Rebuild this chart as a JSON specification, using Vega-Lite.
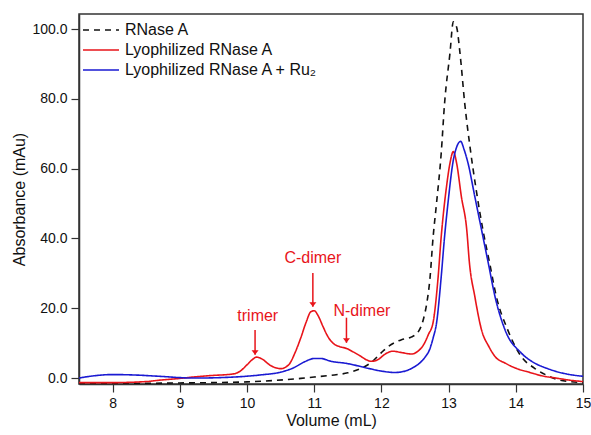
{
  "$schema": "https://vega.github.io/schema/vega-lite/v6.json",
  "autosize": {"type": "none"},
  "padding": {"left": 79, "top": 14, "right": 8, "bottom": 51},
  "width": 504,
  "height": 370,
  "config": {
    "font": "Liberation Sans",
    "view": {"stroke": "#333", "strokeWidth": 1.5},
    "axis": {"domainColor": "#333", "domainWidth": 1.5, "tickColor": "#333", "tickWidth": 1.2, "labelColor": "#111", "titleColor": "#111", "labelFont": "Liberation Sans", "titleFont": "Liberation Sans", "labelFontSize": 14, "titleFontSize": 16, "titleFontWeight": "normal", "grid": false}
  },
  "datasets": {
    "curves": [
      {"series": "RNase A", "x": 7.5, "y": -1.6}, {"series": "RNase A", "x": 8.0, "y": -1.6}, {"series": "RNase A", "x": 8.5, "y": -1.5}, {"series": "RNase A", "x": 9.0, "y": -1.4}, {"series": "RNase A", "x": 9.5, "y": -1.3}, {"series": "RNase A", "x": 10.0, "y": -1.1}, {"series": "RNase A", "x": 10.4, "y": -0.7}, {"series": "RNase A", "x": 10.8, "y": -0.1}, {"series": "RNase A", "x": 11.0, "y": 0.3}, {"series": "RNase A", "x": 11.3, "y": 0.9}, {"series": "RNase A", "x": 11.5, "y": 1.5}, {"series": "RNase A", "x": 11.7, "y": 2.8}, {"series": "RNase A", "x": 11.85, "y": 4.5}, {"series": "RNase A", "x": 12.0, "y": 7.3}, {"series": "RNase A", "x": 12.1, "y": 9.0}, {"series": "RNase A", "x": 12.2, "y": 10.2}, {"series": "RNase A", "x": 12.3, "y": 11.0}, {"series": "RNase A", "x": 12.45, "y": 11.8}, {"series": "RNase A", "x": 12.55, "y": 13.3}, {"series": "RNase A", "x": 12.62, "y": 16.5}, {"series": "RNase A", "x": 12.68, "y": 22}, {"series": "RNase A", "x": 12.72, "y": 28}, {"series": "RNase A", "x": 12.77, "y": 40.5}, {"series": "RNase A", "x": 12.82, "y": 50}, {"series": "RNase A", "x": 12.89, "y": 64.4}, {"series": "RNase A", "x": 12.94, "y": 78.7}, {"series": "RNase A", "x": 13.02, "y": 93}, {"series": "RNase A", "x": 13.07, "y": 102.1}, {"series": "RNase A", "x": 13.12, "y": 100.5}, {"series": "RNase A", "x": 13.17, "y": 93}, {"series": "RNase A", "x": 13.24, "y": 78.7}, {"series": "RNase A", "x": 13.32, "y": 66}, {"series": "RNase A", "x": 13.41, "y": 54}, {"series": "RNase A", "x": 13.51, "y": 42.5}, {"series": "RNase A", "x": 13.61, "y": 33}, {"series": "RNase A", "x": 13.71, "y": 23.4}, {"series": "RNase A", "x": 13.88, "y": 13.8}, {"series": "RNase A", "x": 14.08, "y": 6.2}, {"series": "RNase A", "x": 14.28, "y": 2.8}, {"series": "RNase A", "x": 14.46, "y": 0.8}, {"series": "RNase A", "x": 14.6, "y": -0.3}, {"series": "RNase A", "x": 14.8, "y": -1.0}, {"series": "RNase A", "x": 15.0, "y": -1.3},

      {"series": "Lyophilized RNase A", "x": 7.5, "y": -1.3}, {"series": "Lyophilized RNase A", "x": 8.0, "y": -1.3}, {"series": "Lyophilized RNase A", "x": 8.5, "y": -1.0}, {"series": "Lyophilized RNase A", "x": 8.7, "y": -0.6}, {"series": "Lyophilized RNase A", "x": 9.0, "y": -0.1}, {"series": "Lyophilized RNase A", "x": 9.2, "y": 0.3}, {"series": "Lyophilized RNase A", "x": 9.45, "y": 0.7}, {"series": "Lyophilized RNase A", "x": 9.8, "y": 1.2}, {"series": "Lyophilized RNase A", "x": 9.9, "y": 2.0}, {"series": "Lyophilized RNase A", "x": 10.0, "y": 3.8}, {"series": "Lyophilized RNase A", "x": 10.08, "y": 5.3}, {"series": "Lyophilized RNase A", "x": 10.14, "y": 6.0}, {"series": "Lyophilized RNase A", "x": 10.22, "y": 5.5}, {"series": "Lyophilized RNase A", "x": 10.35, "y": 3.6}, {"series": "Lyophilized RNase A", "x": 10.5, "y": 2.7}, {"series": "Lyophilized RNase A", "x": 10.62, "y": 3.8}, {"series": "Lyophilized RNase A", "x": 10.72, "y": 7.5}, {"series": "Lyophilized RNase A", "x": 10.8, "y": 11.5}, {"series": "Lyophilized RNase A", "x": 10.88, "y": 16}, {"series": "Lyophilized RNase A", "x": 10.95, "y": 19.0}, {"series": "Lyophilized RNase A", "x": 11.0, "y": 19.3}, {"series": "Lyophilized RNase A", "x": 11.06, "y": 17.8}, {"series": "Lyophilized RNase A", "x": 11.13, "y": 14.8}, {"series": "Lyophilized RNase A", "x": 11.2, "y": 12}, {"series": "Lyophilized RNase A", "x": 11.28, "y": 10.0}, {"series": "Lyophilized RNase A", "x": 11.38, "y": 9.0}, {"series": "Lyophilized RNase A", "x": 11.48, "y": 8.5}, {"series": "Lyophilized RNase A", "x": 11.58, "y": 7.5}, {"series": "Lyophilized RNase A", "x": 11.68, "y": 6.4}, {"series": "Lyophilized RNase A", "x": 11.78, "y": 5.2}, {"series": "Lyophilized RNase A", "x": 11.85, "y": 4.8}, {"series": "Lyophilized RNase A", "x": 11.95, "y": 5.3}, {"series": "Lyophilized RNase A", "x": 12.05, "y": 6.8}, {"series": "Lyophilized RNase A", "x": 12.17, "y": 7.7}, {"series": "Lyophilized RNase A", "x": 12.3, "y": 7.3}, {"series": "Lyophilized RNase A", "x": 12.45, "y": 6.9}, {"series": "Lyophilized RNase A", "x": 12.55, "y": 7.8}, {"series": "Lyophilized RNase A", "x": 12.62, "y": 9.3}, {"series": "Lyophilized RNase A", "x": 12.7, "y": 12.5}, {"series": "Lyophilized RNase A", "x": 12.77, "y": 16}, {"series": "Lyophilized RNase A", "x": 12.84, "y": 28}, {"series": "Lyophilized RNase A", "x": 12.89, "y": 40.5}, {"series": "Lyophilized RNase A", "x": 12.97, "y": 55}, {"series": "Lyophilized RNase A", "x": 13.02, "y": 61.5}, {"series": "Lyophilized RNase A", "x": 13.07, "y": 64.9}, {"series": "Lyophilized RNase A", "x": 13.12, "y": 61.5}, {"series": "Lyophilized RNase A", "x": 13.19, "y": 52}, {"series": "Lyophilized RNase A", "x": 13.27, "y": 42.5}, {"series": "Lyophilized RNase A", "x": 13.31, "y": 33}, {"series": "Lyophilized RNase A", "x": 13.39, "y": 23.4}, {"series": "Lyophilized RNase A", "x": 13.49, "y": 13.8}, {"series": "Lyophilized RNase A", "x": 13.6, "y": 9.0}, {"series": "Lyophilized RNase A", "x": 13.69, "y": 6.2}, {"series": "Lyophilized RNase A", "x": 13.85, "y": 4.2}, {"series": "Lyophilized RNase A", "x": 13.99, "y": 2.9}, {"series": "Lyophilized RNase A", "x": 14.21, "y": 1.6}, {"series": "Lyophilized RNase A", "x": 14.4, "y": 0.6}, {"series": "Lyophilized RNase A", "x": 14.6, "y": 0.0}, {"series": "Lyophilized RNase A", "x": 14.8, "y": -0.6}, {"series": "Lyophilized RNase A", "x": 15.0, "y": -1.0},

      {"series": "Lyophilized RNase A + Ru₂", "x": 7.5, "y": 0.0}, {"series": "Lyophilized RNase A + Ru₂", "x": 7.7, "y": 0.6}, {"series": "Lyophilized RNase A + Ru₂", "x": 8.0, "y": 1.0}, {"series": "Lyophilized RNase A + Ru₂", "x": 8.3, "y": 0.9}, {"series": "Lyophilized RNase A + Ru₂", "x": 8.7, "y": 0.5}, {"series": "Lyophilized RNase A + Ru₂", "x": 9.2, "y": 0.0}, {"series": "Lyophilized RNase A + Ru₂", "x": 9.7, "y": 0.2}, {"series": "Lyophilized RNase A + Ru₂", "x": 10.2, "y": 0.9}, {"series": "Lyophilized RNase A + Ru₂", "x": 10.5, "y": 1.7}, {"series": "Lyophilized RNase A + Ru₂", "x": 10.7, "y": 3.0}, {"series": "Lyophilized RNase A + Ru₂", "x": 10.85, "y": 4.6}, {"series": "Lyophilized RNase A + Ru₂", "x": 11.0, "y": 5.6}, {"series": "Lyophilized RNase A + Ru₂", "x": 11.1, "y": 5.6}, {"series": "Lyophilized RNase A + Ru₂", "x": 11.25, "y": 4.8}, {"series": "Lyophilized RNase A + Ru₂", "x": 11.48, "y": 4.2}, {"series": "Lyophilized RNase A + Ru₂", "x": 11.65, "y": 3.5}, {"series": "Lyophilized RNase A + Ru₂", "x": 11.8, "y": 2.8}, {"series": "Lyophilized RNase A + Ru₂", "x": 12.0, "y": 2.0}, {"series": "Lyophilized RNase A + Ru₂", "x": 12.2, "y": 1.6}, {"series": "Lyophilized RNase A + Ru₂", "x": 12.37, "y": 2.1}, {"series": "Lyophilized RNase A + Ru₂", "x": 12.47, "y": 3.0}, {"series": "Lyophilized RNase A + Ru₂", "x": 12.57, "y": 4.3}, {"series": "Lyophilized RNase A + Ru₂", "x": 12.65, "y": 6.0}, {"series": "Lyophilized RNase A + Ru₂", "x": 12.72, "y": 8.3}, {"series": "Lyophilized RNase A + Ru₂", "x": 12.77, "y": 11.5}, {"series": "Lyophilized RNase A + Ru₂", "x": 12.82, "y": 15.7}, {"series": "Lyophilized RNase A + Ru₂", "x": 12.89, "y": 29}, {"series": "Lyophilized RNase A + Ru₂", "x": 12.94, "y": 40.5}, {"series": "Lyophilized RNase A + Ru₂", "x": 12.99, "y": 50}, {"series": "Lyophilized RNase A + Ru₂", "x": 13.07, "y": 62.4}, {"series": "Lyophilized RNase A + Ru₂", "x": 13.12, "y": 66.2}, {"series": "Lyophilized RNase A + Ru₂", "x": 13.18, "y": 67.8}, {"series": "Lyophilized RNase A + Ru₂", "x": 13.23, "y": 65.5}, {"series": "Lyophilized RNase A + Ru₂", "x": 13.29, "y": 61.5}, {"series": "Lyophilized RNase A + Ru₂", "x": 13.39, "y": 52}, {"series": "Lyophilized RNase A + Ru₂", "x": 13.49, "y": 42.5}, {"series": "Lyophilized RNase A + Ru₂", "x": 13.59, "y": 33}, {"series": "Lyophilized RNase A + Ru₂", "x": 13.69, "y": 23.4}, {"series": "Lyophilized RNase A + Ru₂", "x": 13.84, "y": 13.8}, {"series": "Lyophilized RNase A + Ru₂", "x": 14.08, "y": 7.2}, {"series": "Lyophilized RNase A + Ru₂", "x": 14.28, "y": 4.3}, {"series": "Lyophilized RNase A + Ru₂", "x": 14.46, "y": 2.8}, {"series": "Lyophilized RNase A + Ru₂", "x": 14.6, "y": 1.9}, {"series": "Lyophilized RNase A + Ru₂", "x": 14.75, "y": 1.2}, {"series": "Lyophilized RNase A + Ru₂", "x": 15.0, "y": 0.5}
    ],
    "notes": [
      {"label": "trimer", "tx": 10.16, "ty": 17.8, "ax": 10.12, "ay1": 13.8, "ay2": 6.7},
      {"label": "C-dimer", "tx": 10.98, "ty": 34.4, "ax": 10.98, "ay1": 30.1, "ay2": 20.4},
      {"label": "N-dimer", "tx": 11.71, "ty": 19.3, "ax": 11.48, "ay1": 17.3, "ay2": 10.1}
    ]
  },
  "layer": [
    {
      "data": {"name": "curves"},
      "mark": {"type": "line", "interpolate": "monotone", "strokeWidth": 1.6, "clip": true},
      "encoding": {
        "x": {"field": "x", "type": "quantitative", "scale": {"domain": [7.5, 15], "nice": false, "zero": false},
          "axis": {"title": "Volume (mL)", "values": [8, 8.5, 9, 9.5, 10, 10.5, 11, 11.5, 12, 12.5, 13, 13.5, 14, 14.5, 15],
            "labelExpr": "datum.value % 1 === 0 ? format(datum.value, 'd') : ''",
            "tickSize": {"condition": {"test": "datum.value % 1 === 0", "value": 8}, "value": 4},
            "labelPadding": 4, "titlePadding": 2, "labelFlush": false}},
        "y": {"field": "y", "type": "quantitative", "scale": {"domain": [-1.7, 104.3], "nice": false, "zero": false},
          "axis": {"title": "Absorbance (mAu)", "values": [0, 10, 20, 30, 40, 50, 60, 70, 80, 90, 100],
            "labelExpr": "datum.value % 20 === 0 ? format(datum.value, '.1f') : ''",
            "tickSize": {"condition": {"test": "datum.value % 20 === 0", "value": 8}, "value": 4},
            "labelPadding": 4, "titlePadding": 4}},
        "color": {"field": "series", "type": "nominal",
          "scale": {"domain": ["RNase A", "Lyophilized RNase A", "Lyophilized RNase A + Ru₂"], "range": ["#111111", "#e8141a", "#1a1ad2"]},
          "legend": {"title": null, "orient": "none", "legendX": 3, "legendY": 6, "symbolType": "M-1,0H3", "symbolSize": 324, "symbolStrokeWidth": 1.6, "symbolFillColor": "transparent", "labelFontSize": 16, "labelFont": "Liberation Sans", "labelColor": "#111", "labelOffset": 23, "labelLimit": 0, "rowPadding": 2, "padding": 0}},
        "strokeDash": {"field": "series", "type": "nominal",
          "scale": {"domain": ["RNase A", "Lyophilized RNase A", "Lyophilized RNase A + Ru₂"], "range": [[6, 5], [1, 0], [1, 0]]},
          "legend": {"title": null, "orient": "none", "legendX": 3, "legendY": 6, "symbolType": "M-1,0H3", "symbolSize": 324, "symbolStrokeWidth": 1.6, "symbolFillColor": "transparent", "labelFontSize": 16, "labelFont": "Liberation Sans", "labelColor": "#111", "labelOffset": 23, "labelLimit": 0, "rowPadding": 2, "padding": 0}}
      }
    },
    {
      "data": {"name": "notes"},
      "mark": {"type": "text", "color": "#e8141a", "fontSize": 16, "font": "Liberation Sans", "align": "center", "baseline": "middle"},
      "encoding": {
        "x": {"field": "tx", "type": "quantitative"},
        "y": {"field": "ty", "type": "quantitative"},
        "text": {"field": "label"}
      }
    },
    {
      "data": {"name": "notes"},
      "mark": {"type": "rule", "color": "#e8141a", "strokeWidth": 1.5},
      "encoding": {
        "x": {"field": "ax", "type": "quantitative"},
        "y": {"field": "ay1", "type": "quantitative"},
        "y2": {"field": "ay2"}
      }
    },
    {
      "data": {"name": "notes"},
      "mark": {"type": "point", "shape": "M-1,-1.3L1,-1.3L0,0Z", "size": 49, "filled": true, "color": "#e8141a", "opacity": 1},
      "encoding": {
        "x": {"field": "ax", "type": "quantitative"},
        "y": {"field": "ay2", "type": "quantitative"}
      }
    }
  ]
}
